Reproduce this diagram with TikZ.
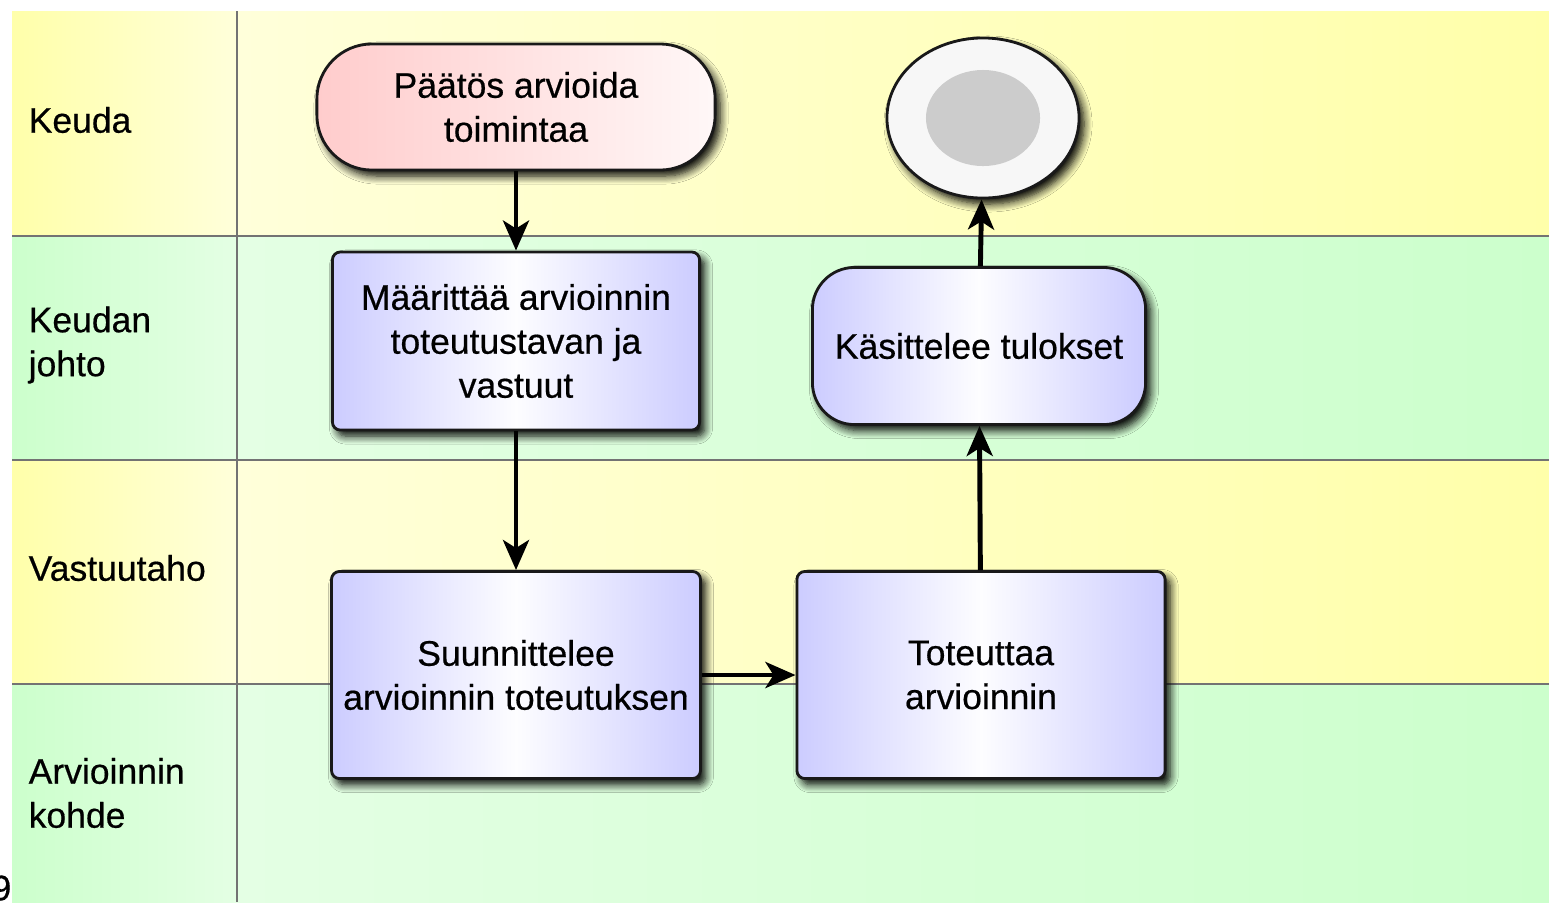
\documentclass[tikz,border=0pt]{standalone}
\usepackage{fontspec}
\setmainfont{Liberation Sans}[FakeBold=0.5]
\usetikzlibrary{shapes.geometric,shadows.blur,arrows.meta}

\definecolor{laneyellow}{RGB}{255,255,170}
\definecolor{laneyellowpale}{RGB}{255,255,218}
\definecolor{lanegreen}{RGB}{204,255,204}
\definecolor{lanegreenpale}{RGB}{228,255,228}
\definecolor{taskblue}{RGB}{204,204,255}
\definecolor{startpink}{RGB}{255,204,204}
\definecolor{endgray}{RGB}{204,204,204}

\tikzset{
  every node/.style={font=\fontsize{10.1}{12.5}\selectfont},
  lanename/.style={anchor=west, align=left, inner sep=0pt},
  laneline/.style={draw=black!55, line width=0.6pt},
  boxshadow/.style={blur shadow={shadow xshift=0.05cm, shadow yshift=-0.06cm,
      shadow blur radius=0.08cm, shadow blur steps=8, shadow opacity=100}},
  task/.style={draw=black!90, line width=0.8pt, align=center, boxshadow,
    left color=taskblue, right color=taskblue, middle color=white!96!taskblue},
  startbox/.style={draw=black!90, line width=0.8pt, align=center, boxshadow,
    rounded corners=0.55cm, left color=startpink, right color=white!85!startpink,
    minimum width=3.98cm, minimum height=1.26cm},
  flow/.style={-{Stealth[length=0.3cm, width=0.26cm, inset=0.08cm]}, line width=1.4pt}
}

\begin{document}
\begin{tikzpicture}[x=0.01cm, y=-0.01cm]
	\useasboundingbox (0, 0) rectangle (1549, 902);
	% kaistat
	\foreach \ytop/\ybot/\lanecol/\lanepale in
	  {11/236/laneyellow/laneyellowpale, 236/460/lanegreen/lanegreenpale,
	   460/684/laneyellow/laneyellowpale, 684/902/lanegreen/lanegreenpale}{
		\shade [left color=\lanecol, right color=\lanepale] (12, \ytop) rectangle (237, \ybot);
		\shade [left color=\lanepale, middle color=white!90!\lanepale, right color=\lanecol]
		  (237, \ytop) rectangle (1549, \ybot);
	}
	\draw [laneline] (12, 236) -- (1549, 236);
	\draw [laneline] (12, 460) -- (1549, 460);
	\draw [laneline] (12, 684) -- (1549, 684);
	\draw [laneline] (237, 11) -- (237, 902);
	% kaistojen nimet
	\node [lanename] (keuda) at (28, 120) {Keuda};
	\node [lanename] (johto) at (28, 345) {Keudan\\johto};
	\node [lanename] (vastuu) at (28, 568) {Vastuutaho};
	\node [lanename] (kohde) at (28, 793) {Arvioinnin\\kohde};
	\node [anchor=east, inner sep=0pt] (sivu) at (12, 888) {9};
	% vaiheet
	\node [startbox] (paatos) at (516, 107) {Päätös arvioida\\toimintaa};
	\node [task, rounded corners=0.08cm, minimum width=3.67cm, minimum height=1.78cm]
	  (maarittaa) at (516, 341) {Määrittää arvioinnin\\toteutustavan ja\\vastuut};
	\node [task, rounded corners=0.08cm, minimum width=3.67cm, minimum height=2.07cm]
	  (suunnittelee) at (516, 675) {Suunnittelee\\arvioinnin toteutuksen};
	\node [task, rounded corners=0.08cm, minimum width=3.68cm, minimum height=2.07cm]
	  (toteuttaa) at (981, 675) {Toteuttaa\\arvioinnin};
	\node [task, rounded corners=0.42cm, minimum width=3.33cm, minimum height=1.57cm]
	  (kasittelee) at (979, 346) {Käsittelee tulokset};
	% loppu
	\node [ellipse, draw=black!90, line width=0.8pt, fill=white!97!black, boxshadow,
	  minimum width=1.92cm, minimum height=1.60cm] (loppu) at (983, 118) {};
	\node [ellipse, fill=endgray, minimum width=1.14cm, minimum height=0.96cm]
	  (loppusisa) at (983, 118) {};
	% nuolet
	\draw [flow] (paatos) -- (maarittaa);
	\draw [flow] (maarittaa) -- (suunnittelee);
	\draw [flow] (suunnittelee) -- (toteuttaa);
	\draw [flow] (toteuttaa) -- (kasittelee);
	\draw [flow] (kasittelee) -- (loppu);
\end{tikzpicture}
\end{document}
